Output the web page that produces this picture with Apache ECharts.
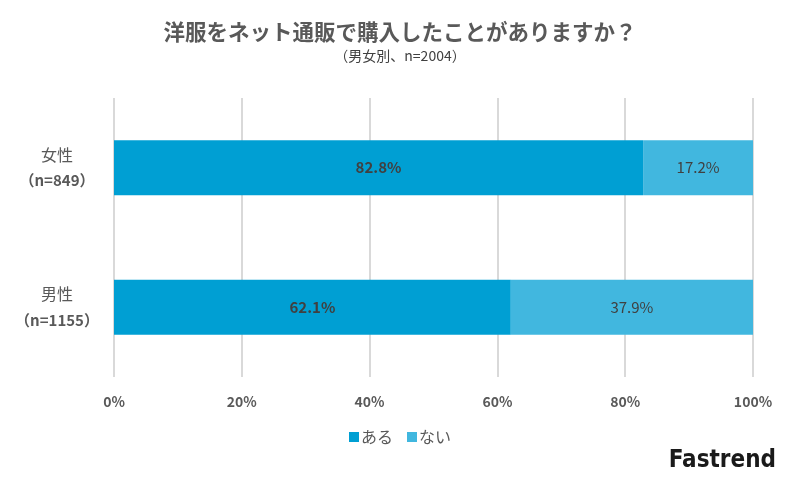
<!DOCTYPE html>
<html><head><meta charset="utf-8">
<script src="https://cdn.jsdelivr.net/npm/echarts@6/dist/echarts.min.js"></script>
<style>html,body{margin:0;padding:0;background:#fff}#c{width:800px;height:480px}</style>
</head><body><div id="c"></div>
<script>
const categories = ['女性', '男性'];
const categoryN = ['（n=849）', '（n=1155）'];
const seriesNames = ['ある', 'ない'];
const aruValues = [82.8, 62.1];
const naiValues = [17.2, 37.9];
const tickValues = [0, 20, 40, 60, 80, 100];

const chart = echarts.init(document.getElementById('c'));
const font = '"Noto Sans CJK JP", "Noto Sans", sans-serif';
chart.setOption({
  animation: false,
  textStyle: { fontFamily: font },
  title: {
    text: '洋服をネット通販で購入したことがありますか？',
    subtext: '（男女別、n=2004）',
    left: 'center', top: 16, itemGap: 6,
    textStyle: { fontFamily: font, fontSize: 21.5, fontWeight: 'bold', color: '#595959' },
    subtextStyle: { fontFamily: font, fontSize: 14, color: '#404040' }
  },
  legend: {
    data: seriesNames, bottom: 30, left: 'center',
    icon: 'rect', itemWidth: 10, itemHeight: 10, itemGap: 14,
    textStyle: { fontFamily: font, fontSize: 16, color: '#595959', padding: [0,0,0,-3] }
  },
  grid: { left: 114, right: 47, top: 98, bottom: 103 },
  xAxis: {
    type: 'value', min: 0, max: 100, interval: 20,
    axisLine: { show: false }, axisTick: { show: false },
    splitLine: { lineStyle: { color: '#d9d9d9', width: 2 } },
    axisLabel: { formatter: v => tickValues.includes(v) ? v + '%' : '', color: '#595959', fontWeight: 'bold', fontSize: 14, margin: 18 }
  },
  yAxis: {
    type: 'category', data: categories, inverse: true,
    axisLine: { show: false }, axisTick: { show: false },
    axisLabel: {
      formatter: (v, i) => '{a|' + v + '}\n{b|' + categoryN[i] + '}',
      margin: 57, align: 'center',
      rich: {
        a: { fontFamily: font, fontSize: 16, color: '#595959', lineHeight: 26, align: 'center' },
        b: { fontFamily: font, fontSize: 15, fontWeight: 'bold', color: '#595959', lineHeight: 26, align: 'center' }
      }
    }
  },
  series: [
    { name: seriesNames[0], type: 'bar', stack: 't', data: aruValues, barWidth: 55,
      itemStyle: { color: '#009fd3' },
      label: { show: true, position: 'inside', formatter: p => p.value.toFixed(1) + '%', fontWeight: 'bold', fontSize: 15, color: '#404040' } },
    { name: seriesNames[1], type: 'bar', stack: 't', data: naiValues, barWidth: 55,
      itemStyle: { color: '#41b7df' },
      label: { show: true, position: 'inside', formatter: p => p.value.toFixed(1) + '%', fontSize: 15, color: '#404040' } }
  ],
  graphic: [{
    type: 'text', right: 24, top: 449,
    style: { text: 'Fastrend', font: 'bold 24px "DejaVu Sans Condensed", "Liberation Sans Narrow", sans-serif', fill: '#1a1a1a' }
  }]
});
</script></body></html>
